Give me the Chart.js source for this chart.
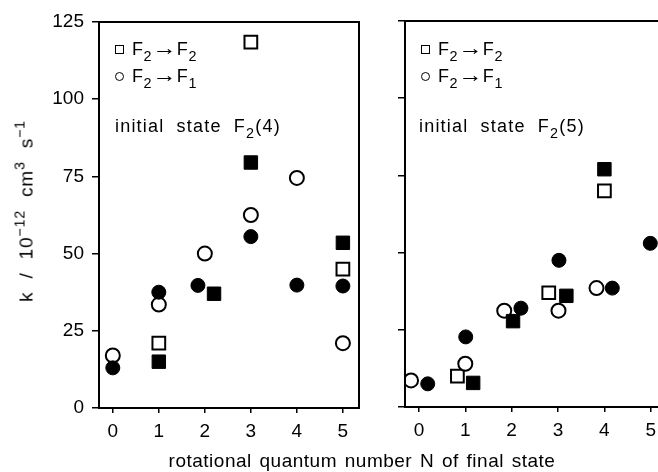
<!DOCTYPE html>
<html>
<head>
<meta charset="utf-8">
<script src="https://cdn.jsdelivr.net/npm/chart.js@4.4.1/dist/chart.umd.min.js"></script>
<style>
  html, body { margin: 0; padding: 0; background: #fff; overflow: hidden; }
  #wrap { position: relative; width: 658px; height: 472px; overflow: hidden;
          font-family: 'Liberation Sans', Arial, sans-serif; color: #000; }
  canvas { position: absolute; top: 0; }
  #left { left: 0; }
  #right { left: 360px; }
  .txt { position: absolute; font-size: 18px; line-height: 18px; white-space: nowrap; letter-spacing: 0.6px; }
  .txt sub { font-size: 80%; line-height: 0; vertical-align: -0.45em; }
  .arr { display: inline-block; font-size: 21px; line-height: 0; margin: 0 1px 0 2px; transform: scaleX(1.15); }
  .sq { display: inline-block; width: 7px; height: 7px; border: 1.5px solid #000; margin-right: 8px; vertical-align: 1px; }
  .ci { display: inline-block; width: 7px; height: 7px; border: 1.5px solid #000; border-radius: 50%; margin-right: 8px; vertical-align: 1px; }
  .state { word-spacing: 6px; letter-spacing: 1.2px; }
  #ytitle { position: absolute; left: 26px; top: 211px; font-size: 19px; line-height: 19px;
            white-space: nowrap; word-spacing: 7px; letter-spacing: 0.8px;
            transform: translate(-50%, -50%) rotate(-90deg); }
  #ytitle sup { font-size: 75%; line-height: 0; vertical-align: 0.55em; }
  #xtitle { position: absolute; left: 362px; top: 451px; font-size: 19px; line-height: 19px;
            white-space: nowrap; letter-spacing: 0.5px; word-spacing: 2px; transform: translateX(-50%); }
</style>
</head>
<body>
<div id="wrap">
  <canvas id="left" width="370" height="472"></canvas>
  <canvas id="right" width="320" height="472"></canvas>

  <div class="txt" style="left:115px; top:40px;"><span class="sq"></span>F<sub>2</sub><span class="arr">→</span>F<sub>2</sub></div>
  <div class="txt" style="left:115px; top:67px;"><span class="ci"></span>F<sub>2</sub><span class="arr">→</span>F<sub>1</sub></div>
  <div class="txt state" style="left:115px; top:117px;">initial state F<sub>2</sub>(4)</div>

  <div class="txt" style="left:421px; top:40px;"><span class="sq"></span>F<sub>2</sub><span class="arr">→</span>F<sub>2</sub></div>
  <div class="txt" style="left:421px; top:67px;"><span class="ci"></span>F<sub>2</sub><span class="arr">→</span>F<sub>1</sub></div>
  <div class="txt state" style="left:419px; top:117px;">initial state F<sub>2</sub>(5)</div>

  <div id="ytitle">k / 10<sup>−12</sup> cm<sup>3</sup> s<sup>−1</sup></div>
  <div id="xtitle">rotational quantum number N of final state</div>
</div>

<script>
// tick values
const tickN = [0, 1, 2, 3, 4, 5];
const tickK = [0, 25, 50, 75, 100, 125];

// initial state F2(4)
const leftFilledCircN = [0, 1, 1.85, 3, 4, 5];
const leftFilledCircK = [13, 37.5, 39.7, 55.5, 39.8, 39.5];
const leftFilledSqN = [1, 2.2, 3, 5];
const leftFilledSqK = [15, 37, 79.5, 53.5];
const leftOpenCircN = [0, 1, 2, 3, 4, 5];
const leftOpenCircK = [17, 33.5, 50, 62.5, 74.5, 21];
const leftOpenSqN = [1, 3, 5];
const leftOpenSqK = [21, 118.5, 45];

// initial state F2(5)
const rightFilledCircN = [0.19, 1.01, 2.2, 3.02, 4.17, 4.99];
const rightFilledCircK = [7.5, 22.7, 32, 47.5, 38.5, 53];
const rightFilledSqN = [1.17, 2.03, 3.18, 4];
const rightFilledSqK = [7.8, 27.8, 36, 77];
const rightOpenCircN = [-0.17, 1, 1.84, 3.01, 3.83];
const rightOpenCircK = [8.6, 14, 31.2, 31.2, 38.5];
const rightOpenSqN = [0.83, 2.8, 4];
const rightOpenSqK = [10, 37, 70];

function pts(xs, ys) {
    return xs.map((x, i) => ({ x: x, y: ys[i] }));
}

// draws the box round the plot area
const framePlugin = {
    id: 'frame',
    afterDraw(chart) {
        const { ctx, chartArea: a } = chart;
        ctx.save();
        ctx.strokeStyle = '#000';
        ctx.lineWidth = 2;
        ctx.strokeRect(a.left, a.top, a.right - a.left, a.bottom - a.top);
        ctx.restore();
    }
};

function makePanel(canvasId, s, opt) {
    const filled = { pointBackgroundColor: '#000', pointBorderColor: '#000', pointBorderWidth: 1 };
    const open = { pointBackgroundColor: '#fff', pointBorderColor: '#000', pointBorderWidth: 2 };
    new Chart(document.getElementById(canvasId).getContext('2d'), {
        type: 'scatter',
        data: {
            datasets: [
                Object.assign({ label: 'F2→F1 filled', data: pts(s.fcN, s.fcK), pointStyle: 'circle', pointRadius: 7 }, filled),
                Object.assign({ label: 'F2→F2 filled', data: pts(s.fsN, s.fsK), pointStyle: 'rect', pointRadius: 9.5 }, filled),
                Object.assign({ label: 'F2→F1 open', data: pts(s.ocN, s.ocK), pointStyle: 'circle', pointRadius: 7 }, open),
                Object.assign({ label: 'F2→F2 open', data: pts(s.osN, s.osK), pointStyle: 'rect', pointRadius: 9 }, open)
            ]
        },
        options: {
            responsive: false,
            animation: false,
            devicePixelRatio: 1,
            layout: { padding: { top: opt.top, right: opt.right, left: 0, bottom: 0 } },
            plugins: { legend: { display: false }, tooltip: { enabled: false } },
            scales: {
                x: {
                    type: 'linear',
                    min: -0.3,
                    max: 5.35,
                    afterBuildTicks: (sc) => { sc.ticks = tickN.map(v => ({ value: v })); },
                    afterFit: (sc) => { sc.height = opt.xh; },
                    border: { display: true, color: '#000', width: 2 },
                    grid: { drawOnChartArea: false, drawTicks: true, tickLength: 5, color: '#000', lineWidth: 1.5 },
                    ticks: { color: '#000', padding: 7, font: { family: 'Liberation Sans', size: 19 } }
                },
                y: {
                    type: 'linear',
                    min: 0,
                    max: 125,
                    afterBuildTicks: (sc) => { sc.ticks = tickK.map(v => ({ value: v })); },
                    afterFit: (sc) => { sc.width = opt.yw; },
                    border: { display: true, color: '#000', width: 2 },
                    grid: { drawOnChartArea: false, drawTicks: true, tickLength: 7, color: '#000', lineWidth: 1.5 },
                    ticks: {
                        color: '#000', padding: 8, font: { family: 'Liberation Sans', size: 19 },
                        callback: (v) => opt.yLabels ? String(v) : ''
                    }
                }
            }
        },
        plugins: [framePlugin]
    });
}

makePanel('left', {
    fcN: leftFilledCircN, fcK: leftFilledCircK,
    fsN: leftFilledSqN, fsK: leftFilledSqK,
    ocN: leftOpenCircN, ocK: leftOpenCircK,
    osN: leftOpenSqN, osK: leftOpenSqK
}, { top: 22, right: 11, yw: 99, xh: 64, yLabels: true });

makePanel('right', {
    fcN: rightFilledCircN, fcK: rightFilledCircK,
    fsN: rightFilledSqN, fsK: rightFilledSqK,
    ocN: rightOpenCircN, ocK: rightOpenCircK,
    osN: rightOpenSqN, osK: rightOpenSqK
}, { top: 21, right: 13, yw: 45, xh: 65, yLabels: false });
</script>
</body>
</html>
